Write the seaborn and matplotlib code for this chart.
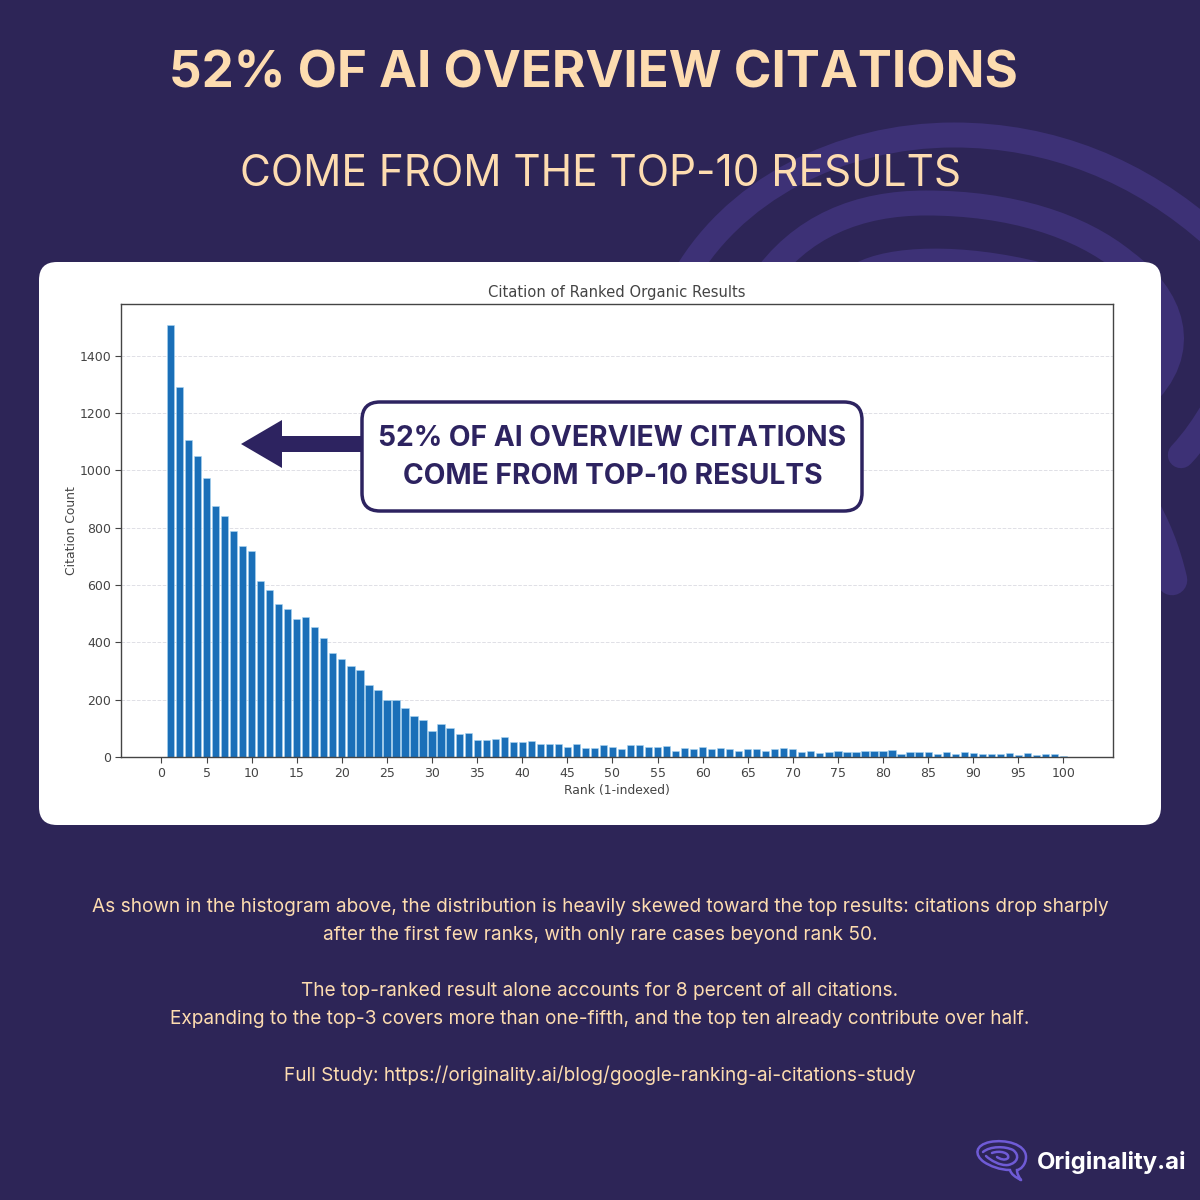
import pandas as pd
import matplotlib.pyplot as plt
import seaborn as sns
from matplotlib.patches import FancyBboxPatch, Polygon, PathPatch
from matplotlib.path import Path

sns.set_theme(style="white")
plt.rcParams['font.family'] = ['Inter', 'DejaVu Sans']

# Citation count per rank
ranks = list(range(1, 101))
citations = [
    1506, 1292, 1108, 1051, 975, 875, 842, 789, 738, 719,
    613, 582, 535, 516, 482, 489, 454, 417, 364, 343,
    317, 305, 251, 235, 200, 200, 170, 142, 129, 92,
    116, 101, 79, 85, 60, 60, 64, 69, 54, 54,
    57, 47, 47, 47, 35, 44, 31, 31, 42, 35,
    28, 41, 42, 35, 35, 38, 22, 31, 28, 35,
    28, 31, 28, 22, 28, 28, 22, 28, 31, 28,
    19, 22, 13, 19, 22, 16, 16, 22, 22, 22,
    26, 9, 16, 16, 19, 9, 16, 9, 19, 13,
    9, 9, 9, 13, 6, 13, 6, 9, 9, 3,
]
x_ticks = list(range(0, 101, 5))
y_ticks = list(range(0, 1401, 200))

BG = '#2d2557'
NAVY = '#2d2360'
PEACH = '#fddcb0'
SWIRL = '#3d3176'
BRAIN = '#6f5bd6'
AXIS_GREY = '#444444'

W = H = 1200


def px_axes(fig, left, top, right, bottom):
    return fig.add_axes([left / W, 1 - bottom / H, (right - left) / W, (bottom - top) / H])


def stroke(ax, pts, color, lw, cap='round', zorder=1):
    # pts: start point followed by triples of cubic bezier points
    codes = [Path.MOVETO] + [Path.CURVE4] * (len(pts) - 1)
    ax.add_patch(PathPatch(Path(pts, codes), fc='none', ec=color, lw=lw, capstyle=cap, zorder=zorder))


fig = plt.figure(figsize=(12, 12), dpi=100, facecolor=BG)

# Page layer in pixel coordinates
page = fig.add_axes([0, 0, 1, 1])
page.set_xlim(0, W)
page.set_ylim(H, 0)
page.axis('off')

# Faint swirl behind the card
stroke(page, [(680, 285), (730, 190), (840, 135), (954, 135),
              (1050, 135), (1140, 170), (1215, 238)], SWIRL, 18)
stroke(page, [(760, 285), (800, 225), (860, 203), (926, 203),
              (1010, 203), (1080, 225), (1125, 262),
              (1170, 295), (1195, 350), (1140, 400)], SWIRL, 18)
stroke(page, [(860, 275), (890, 258), (960, 255), (1040, 275)], SWIRL, 18)
stroke(page, [(1215, 408), (1205, 425), (1195, 440), (1181, 455)], SWIRL, 19)
stroke(page, [(1140, 500), (1155, 525), (1165, 550), (1172, 580)], SWIRL, 22)

page.add_patch(FancyBboxPatch((39, 262), 1122, 563, boxstyle='round,pad=0,rounding_size=18',
                              fc='white', ec='none', zorder=2))

page.text(593, 74, '52% OF AI OVERVIEW CITATIONS', ha='center', va='center', color=PEACH,
          fontsize=36.7, fontweight='bold')
page.text(600, 174, 'COME FROM THE TOP-10 RESULTS', ha='center', va='center', color=PEACH,
          fontsize=30.5, fontweight='normal')

body = [
    ('As shown in the histogram above, the distribution is heavily skewed toward the top results: citations drop sharply', 907),
    ('after the first few ranks, with only rare cases beyond rank 50.', 935),
    ('The top-ranked result alone accounts for 8 percent of all citations.', 991),
    ('Expanding to the top-3 covers more than one-fifth, and the top ten already contribute over half.', 1019),
    ('Full Study: https://originality.ai/blog/google-ranking-ai-citations-study', 1075),
]
for line, y in body:
    page.text(600, y, line, ha='center', va='center', color=PEACH, fontsize=13.7)

# Logo
page.text(1186, 1162, 'Originality.ai', ha='right', va='center', color='white', fontsize=17.2, fontweight='bold')
stroke(page, [(1021, 1180), (1015, 1177), (1011, 1174), (1010, 1170),
              (1000, 1170), (990, 1166), (984, 1162),
              (974, 1155), (975, 1145), (990, 1142),
              (1005, 1139), (1026, 1144), (1026, 1157),
              (1026, 1165), (1020, 1170), (1017, 1170),
              (1017, 1174), (1019, 1177), (1021, 1180)], BRAIN, 1.8, zorder=3)
stroke(page, [(983, 1152), (990, 1146), (1005, 1146), (1013, 1150),
              (1020, 1155), (1018, 1163), (1008, 1165),
              (1000, 1166), (990, 1160), (986, 1156)], BRAIN, 1.8, zorder=3)
stroke(page, [(992, 1153), (1000, 1150), (1010, 1153), (1008, 1158),
              (1005, 1161), (1000, 1159), (997, 1157)], BRAIN, 1.8, zorder=3)

# Chart
ax = px_axes(fig, 121, 304, 1113, 757)
ax.set_zorder(3)
df = pd.DataFrame({'rank': ranks, 'citations': citations})
sns.barplot(data=df, x='rank', y='citations', native_scale=True, color='#1a6fb8', saturation=1,
            width=0.8, ax=ax, edgecolor='#a9d6f2', linewidth=0.4)
ax.set_xlim(-4.49, 105.5)
ax.set_ylim(0, 1581)
ax.set_xticks(x_ticks)
ax.set_yticks(y_ticks)
ax.tick_params(axis='both', length=4, width=0.8, labelsize=9, colors=AXIS_GREY, left=True, bottom=True, pad=3)
for label in ax.get_xticklabels() + ax.get_yticklabels():
    label.set_family('DejaVu Sans')
ax.yaxis.grid(True, linestyle='--', color='#e0e0e6', lw=0.7)
ax.set_axisbelow(True)
for spine in ax.spines.values():
    spine.set_visible(True)
    spine.set_color(AXIS_GREY)
    spine.set_linewidth(1)
ax.set_title('Citation of Ranked Organic Results', fontsize=10.6, family='DejaVu Sans', color=AXIS_GREY, pad=5)
ax.set_xlabel('Rank (1-indexed)', fontsize=8.9, family='DejaVu Sans', color=AXIS_GREY, labelpad=3)
ax.set_ylabel('Citation Count', fontsize=8.9, family='DejaVu Sans', color=AXIS_GREY, labelpad=1)

# Callout drawn over the chart
over = fig.add_axes([0, 0, 1, 1], zorder=5)
over.set_xlim(0, W)
over.set_ylim(H, 0)
over.axis('off')
over.patch.set_alpha(0)
over.add_patch(Polygon([(241, 444), (282, 420), (282, 436), (362, 436), (362, 452), (282, 452), (282, 468)],
                       fc=NAVY, ec='none'))
over.add_patch(FancyBboxPatch((362, 402), 500, 109, boxstyle='round,pad=0,rounding_size=18',
                              fc='white', ec=NAVY, lw=2.5))
over.text(612.5, 439, '52% OF AI OVERVIEW CITATIONS', ha='center', va='center', color=NAVY, fontsize=20.3, fontweight='bold')
over.text(612.5, 477, 'COME FROM TOP-10 RESULTS', ha='center', va='center', color=NAVY, fontsize=20.3, fontweight='bold')

fig.savefig('out.png', dpi=100, facecolor=BG)
plt.close()
